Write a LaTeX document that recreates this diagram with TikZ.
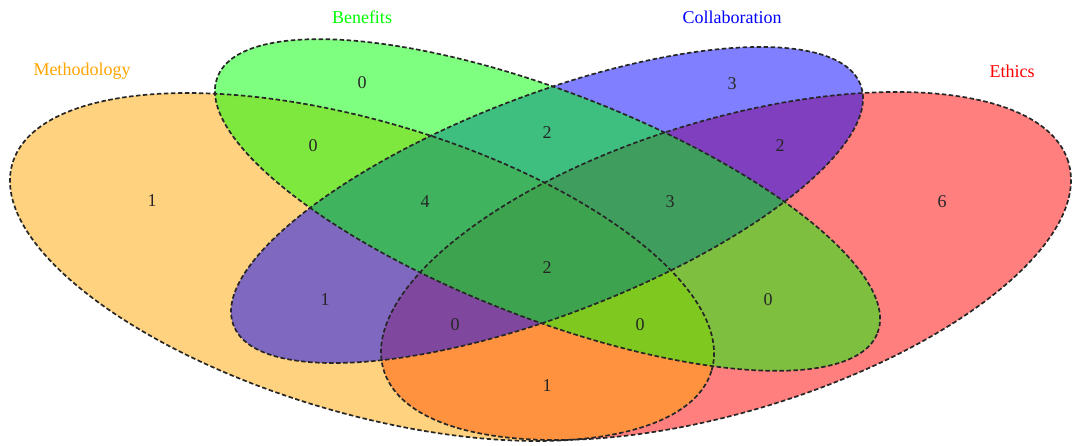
\documentclass[tikz,border=0pt]{standalone}
\usepackage{fontspec}
\setmainfont{Liberation Serif}
\definecolor{vorange}{RGB}{255,165,0}
\definecolor{vgreen}{RGB}{0,255,0}
\definecolor{vblue}{RGB}{0,0,255}
\definecolor{vred}{RGB}{255,0,0}
\begin{document}
\begin{tikzpicture}[x=1pt,y=1pt,
  setfill/.style={fill=#1, fill opacity=0.5, draw=none},
  outline/.style={draw=black!85, dash pattern=on 4.5pt off 2.5pt, line width=1.7pt},
  num/.style={font=\fontsize{18}{20}\selectfont, text=black!85, inner sep=0pt},
  setlabel/.style={font=\fontsize{18}{20}\selectfont, text=#1, inner sep=0pt}]
\useasboundingbox (0,0) rectangle (1073,-446);
% fills
\fill[setfill=vred, rotate around={16.9:(726,-266)}] (726,-266) ellipse [x radius=357.8, y radius=145.8];
\fill[setfill=vorange, rotate around={-16.5:(362,-267)}] (362,-267) ellipse [x radius=364.6, y radius=145.8];
\fill[setfill=vblue, rotate around={21.0:(547,-205)}] (547,-205) ellipse [x radius=335.8, y radius=109.7];
\fill[setfill=vgreen, rotate around={-21.2:(547.5,-205)}] (547.5,-205) ellipse [x radius=354.0, y radius=113.1];
% outlines
\draw[outline, rotate around={-16.5:(362,-267)}] (362,-267) ellipse [x radius=364.6, y radius=145.8];
\draw[outline, rotate around={16.9:(726,-266)}] (726,-266) ellipse [x radius=357.8, y radius=145.8];
\draw[outline, rotate around={21.0:(547,-205)}] (547,-205) ellipse [x radius=335.8, y radius=109.7];
\draw[outline, rotate around={-21.2:(547.5,-205)}] (547.5,-205) ellipse [x radius=354.0, y radius=113.1];
% set labels
\node[setlabel=vorange] (lm) at (82,-71) {Methodology};
\node[setlabel=vgreen] (lb) at (362,-17) {Benefits};
\node[setlabel=vblue] (lc) at (732,-17) {Collaboration};
\node[setlabel=vred] (le) at (1012,-71) {Ethics};
% counts
\node[num] (m) at (152,-201) {1};
\node[num] (b) at (362,-83) {0};
\node[num] (c) at (732,-84) {3};
\node[num] (e) at (942,-202) {6};
\node[num] (mb) at (313,-146) {0};
\node[num] (bc) at (547,-133) {2};
\node[num] (ce) at (780,-146) {2};
\node[num] (mbc) at (425,-202) {4};
\node[num] (bce) at (670,-202) {3};
\node[num] (mc) at (325,-300) {1};
\node[num] (all) at (547,-268) {2};
\node[num] (be) at (768,-300) {0};
\node[num] (mce) at (455,-325) {0};
\node[num] (mbe) at (640,-325) {0};
\node[num] (me) at (547,-386) {1};
\end{tikzpicture}
\end{document}
